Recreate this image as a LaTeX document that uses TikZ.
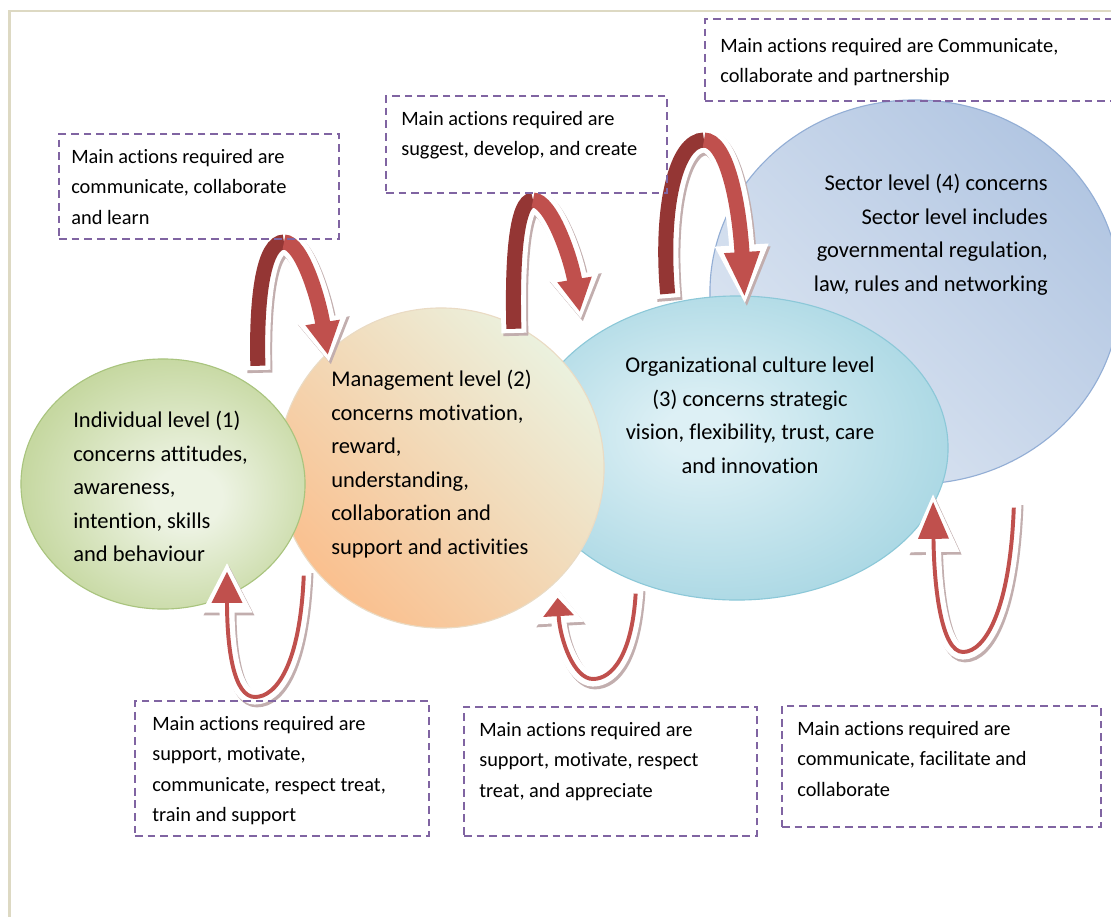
\documentclass[tikz,border=0pt]{standalone}
\usepackage{fontspec}
\setmainfont{Carlito}[Ligatures={NoCommon,NoRequired,NoContextual}]
\usetikzlibrary{shapes.geometric, arrows.meta}

\definecolor{framegray}{HTML}{DDD9C3}
\definecolor{boxpurple}{HTML}{8064A2}
\definecolor{darkred}{HTML}{943634}
\definecolor{lightred}{HTML}{C0504D}
\definecolor{shadowred}{HTML}{C2AEAE}
\definecolor{grnin}{HTML}{EDF3E3}
\definecolor{grnout}{HTML}{C6D8A1}
\definecolor{grnline}{HTML}{A9C47E}
\definecolor{orgin}{HTML}{EBF1DE}
\definecolor{orgout}{HTML}{FAC08F}
\definecolor{orgline}{HTML}{EADBC4}
\definecolor{cyin}{HTML}{DDF0F5}
\definecolor{cyout}{HTML}{ABD8E4}
\definecolor{cyline}{HTML}{8CC8D8}
\definecolor{secin}{HTML}{DDE6F2}
\definecolor{secout}{HTML}{B2C6E2}
\definecolor{secline}{HTML}{93AED5}

\pgfdeclareradialshading{greenball}{\pgfpoint{5bp}{-3bp}}{color(0bp)=(grnin); color(6bp)=(grnin); color(27bp)=(grnout); color(50bp)=(grnout)}
\pgfdeclareradialshading{cyanball}{\pgfpoint{-5bp}{3bp}}{color(0bp)=(cyin); color(4bp)=(cyin); color(28bp)=(cyout); color(50bp)=(cyout)}

\tikzset{
  levelball/.style={ellipse, inner sep=0pt, line width=0.8pt},
  leveltext/.style={inner sep=0pt, font=\fontsize{16}{23.8}\selectfont},
  actbox/.style={draw=boxpurple, line width=1.4pt, dash pattern=on 5.5pt off 3.5pt, inner sep=0pt, anchor=north west},
  acttext/.style={inner sep=0pt, anchor=north west, align=left, font=\fontsize{14.5}{21.7}\selectfont},
  archshadow/.style={shadowred, line width=17.8pt, -{Triangle[width=35pt,length=#1]}, transform canvas={xshift=1.4pt,yshift=-2pt}},
  archwhite/.style={white, line width=17.8pt, -{Triangle[width=35pt,length=#1]}},
  archdark/.style={darkred, line width=10.7pt, shorten <=3pt},
  archlight/.style={lightred, line width=10.7pt, -{Triangle[width=23pt,length=#1]}, shorten >=5pt},
  hookshadow/.style={shadowred, line width=10.7pt, -{Triangle[width=33.4pt,length=#1]}, transform canvas={xshift=1.4pt,yshift=-2pt}},
  hookwhite/.style={white, line width=10.7pt, -{Triangle[width=33.4pt,length=#1]}},
  hookred/.style={lightred, line width=2.8pt, -{Triangle[width=21.3pt,length=#1]}, shorten >=7pt, shorten <=4pt},
}

\begin{document}
\begin{tikzpicture}[x=0.025cm, y=-0.025cm]
  \useasboundingbox (0,0) rectangle (1111,916);
  \clip (0,0) rectangle (1111,916);
  \fill[white] (0,0) rectangle (1111,916);
  \draw[framegray, line width=1.8pt] (9.5,11) rectangle (1200,1000);

  % the four levels
  \node[levelball, draw=secline, top color=secout, bottom color=secin, shading angle=-45,
        minimum width=10.25cm, minimum height=9.6cm] (sector) at (915,292) {};
  \node[levelball, draw=cyline, shade, shading=cyanball,
        minimum width=10.55cm, minimum height=7.6cm] (culture) at (737,448) {};
  \node[levelball, draw=orgline, top color=orgin, bottom color=orgout, shading angle=-45,
        minimum width=8.15cm, minimum height=8cm] (manage) at (441,468) {};
  \node[levelball, draw=grnline, shade, shading=greenball,
        minimum width=7.1cm, minimum height=6.25cm] (indiv) at (163,484) {};

  \node[leveltext, anchor=north west, align=left] (indivtext) at (73,411)
    {Individual level (1)\\concerns attitudes,\\awareness,\\intention, skills\\and behaviour};
  \node[leveltext, anchor=north west, align=left] (managetext) at (331,370)
    {Management level (2)\\concerns motivation,\\reward,\\understanding,\\collaboration and\\support and activities};
  \node[leveltext, anchor=north, align=center] (culturetext) at (750,357)
    {Organizational culture level\\(3) concerns strategic\\vision, flexibility, trust, care\\and innovation};
  \node[leveltext, anchor=north east, align=right] (sectortext) at (1048,174)
    {Sector level (4) concerns\\Sector level includes\\governmental regulation,\\law, rules and networking};

  % arch arrows from the upper boxes
  \coordinate (a1t) at (258,370);
  \coordinate (a1p) at (284,242);
  \coordinate (a1h) at (329,362);
  \draw[archshadow=32pt] (a1t) .. controls (256,295) and (264,242) .. (a1p) .. controls (302,242) and (319,300) .. (a1h);
  \draw[archwhite=32pt] (a1t) .. controls (256,295) and (264,242) .. (a1p) .. controls (302,242) and (319,300) .. (a1h);
  \draw[archdark] (a1t) .. controls (256,295) and (264,242) .. (a1p);
  \draw[archlight=23.5pt] (a1p) .. controls (302,242) and (319,300) .. (a1h);

  \coordinate (a2t) at (514,333);
  \coordinate (a2p) at (533,200);
  \coordinate (a2h) at (581,319);
  \draw[archshadow=32pt] (a2t) .. controls (512,262) and (516,200) .. (a2p) .. controls (551,200) and (571,258) .. (a2h);
  \draw[archwhite=32pt] (a2t) .. controls (512,262) and (516,200) .. (a2p) .. controls (551,200) and (571,258) .. (a2h);
  \draw[archdark] (a2t) .. controls (512,262) and (516,200) .. (a2p);
  \draw[archlight=23.5pt] (a2p) .. controls (551,200) and (571,258) .. (a2h);

  \coordinate (a3t) at (668,298);
  \coordinate (a3p) at (704,140);
  \coordinate (a3h) at (745,305);
  \draw[archshadow=42.7pt] (a3t) .. controls (660,207) and (676,140) .. (a3p) .. controls (726,140) and (739,200) .. (a3h);
  \draw[archwhite=42.7pt] (a3t) .. controls (660,207) and (676,140) .. (a3p) .. controls (726,140) and (739,200) .. (a3h);
  \draw[archdark] (a3t) .. controls (660,207) and (676,140) .. (a3p);
  \draw[archlight=32.7pt] (a3p) .. controls (726,140) and (739,200) .. (a3h);

  % hook arrows from the lower boxes
  \coordinate (b1t) at (304,570);
  \coordinate (b1m) at (255,697);
  \coordinate (b1h) at (227,562);
  \draw[hookshadow=36pt] (b1t) .. controls (300,665) and (276,697) .. (b1m) .. controls (234,697) and (227,650) .. (b1h);
  \draw[hookwhite=36pt] (b1t) .. controls (300,665) and (276,697) .. (b1m) .. controls (234,697) and (227,650) .. (b1h);
  \draw[hookred=22pt] (b1t) .. controls (300,665) and (276,697) .. (b1m) .. controls (234,697) and (227,650) .. (b1h);

  \coordinate (b2t) at (636,588);
  \coordinate (b2m) at (593,679);
  \coordinate (b2h) at (557,588);
  \draw[hookshadow=25pt] (b2t) .. controls (632,655) and (612,679) .. (b2m) .. controls (574,679) and (560,640) .. (b2h);
  \draw[hookwhite=25pt] (b2t) .. controls (632,655) and (612,679) .. (b2m) .. controls (574,679) and (560,640) .. (b2h);
  \draw[hookred=13pt] (b2t) .. controls (632,655) and (612,679) .. (b2m) .. controls (574,679) and (560,640) .. (b2h);

  \coordinate (b3t) at (1014,502);
  \coordinate (b3m) at (963,652);
  \coordinate (b3h) at (933,492);
  \draw[hookshadow=42.7pt] (b3t) .. controls (1010,610) and (985,652) .. (b3m) .. controls (942,652) and (934,590) .. (b3h);
  \draw[hookwhite=42.7pt] (b3t) .. controls (1010,610) and (985,652) .. (b3m) .. controls (942,652) and (934,590) .. (b3h);
  \draw[hookred=26.3pt] (b3t) .. controls (1010,610) and (985,652) .. (b3m) .. controls (942,652) and (934,590) .. (b3h);

  % action boxes
  \node[actbox, minimum width=7cm, minimum height=2.625cm] (boxA) at (58,133) {};
  \node[actbox, minimum width=7.025cm, minimum height=2.425cm] (boxB) at (385,95) {};
  \node[actbox, minimum width=10.4cm, minimum height=2.05cm] (boxC) at (704,18) {};
  \node[actbox, minimum width=7.35cm, minimum height=3.375cm] (boxD) at (134,700) {};
  \node[actbox, minimum width=7.325cm, minimum height=3.225cm] (boxE) at (463,706) {};
  \node[actbox, minimum width=7.975cm, minimum height=3.025cm] (boxF) at (781,705) {};

  \node[acttext] (textA) at ([shift={(13,16)}]boxA.north west)
    {Main actions required are\\communicate, collaborate\\and learn};
  \node[acttext] (textB) at ([shift={(16,16)}]boxB.north west)
    {Main actions required are\\suggest, develop, and create};
  \node[acttext] (textC) at ([shift={(16,20)}]boxC.north west)
    {Main actions required are Communicate,\\collaborate and partnership};
  \node[acttext] (textD) at ([shift={(18,16)}]boxD.north west)
    {Main actions required are\\support, motivate,\\communicate, respect treat,\\train and support};
  \node[acttext] (textE) at ([shift={(16,16)}]boxE.north west)
    {Main actions required are\\support, motivate, respect\\treat, and appreciate};
  \node[acttext] (textF) at ([shift={(16,16)}]boxF.north west)
    {Main actions required are\\communicate, facilitate and\\collaborate};
\end{tikzpicture}
\end{document}
